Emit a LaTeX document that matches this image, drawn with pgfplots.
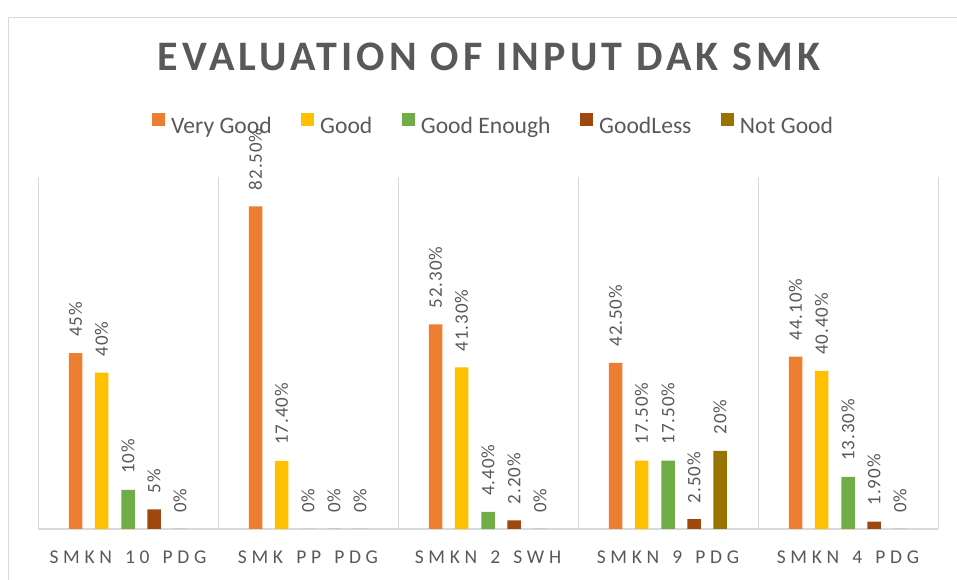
\documentclass[border=0pt]{standalone}
\usepackage{fontspec}
\setmainfont{Carlito}
\newfontfamily\titlefont[LetterSpace=10]{Carlito}
\newfontfamily\tickfont[LetterSpace=24,WordSpace=1.45]{Carlito}
\newfontfamily\labfont[LetterSpace=5]{Carlito}
\usepackage{pgfplots}
\usepackage{pgfplotstable}
\pgfplotsset{compat=1.18}
\definecolor{cVG}{HTML}{ED7D31}
\definecolor{cG}{HTML}{FFC000}
\definecolor{cGE}{HTML}{70AD47}
\definecolor{cGL}{HTML}{9E480E}
\definecolor{cNG}{HTML}{997300}
\definecolor{textgray}{HTML}{595959}
\definecolor{gridgray}{HTML}{D9D9D9}

\pgfplotstableread{
x y lab
0 45 45\%
1 82.5 82.50\%
2 52.3 52.30\%
3 42.5 42.50\%
4 44.1 44.10\%
}\tblVG
\pgfplotstableread{
x y lab
0 40 40\%
1 17.4 17.40\%
2 41.3 41.30\%
3 17.5 17.50\%
4 40.4 40.40\%
}\tblG
\pgfplotstableread{
x y lab
0 10 10\%
1 0 0\%
2 4.4 4.40\%
3 17.5 17.50\%
4 13.3 13.30\%
}\tblGE
\pgfplotstableread{
x y lab
0 5 5\%
1 0 0\%
2 2.2 2.20\%
3 2.5 2.50\%
4 1.9 1.90\%
}\tblGL
\pgfplotstableread{
x y lab
0 0 0\%
1 0 0\%
2 0 0\%
3 20 20\%
4 0 0\%
}\tblNG

\begin{document}
\begin{tikzpicture}
\useasboundingbox (0,0) rectangle (957pt,580pt);
\draw[gridgray, line width=1pt] (8pt,0pt) -- (8pt,562pt) -- (957pt,562pt);
\node[anchor=base, text=textgray, font=\titlefont\bfseries\fontsize{42}{50}\selectfont] at (489pt,509pt) {EVALUATION OF INPUT DAK SMK};
\begin{axis}[
  at={(38pt,51pt)}, anchor=south west,
  scale only axis, width=900pt, height=352pt,
  xmin=-0.5, xmax=4.5, ymin=0, ymax=90,
  ybar, bar width=13.5pt,
  xtick={0,1,2,3,4},
  xticklabels={SMKN 10 PDG, SMK PP PDG, SMKN 2 SWH, SMKN 9 PDG, SMKN 4 PDG},
  minor xtick={-0.5,0.5,1.5,2.5,3.5,4.5},
  xminorgrids=true,
  minor grid style={draw=gridgray, line width=1pt},
  major tick length=0pt, minor tick length=0pt,
  ytick=\empty,
  extra y ticks={0}, extra y tick labels={},
  extra y tick style={ymajorgrids=true, major grid style={draw=gridgray, line width=1.6pt}},
  axis line style={draw=none},
  xticklabel style={font=\tickfont\fontsize{19.5}{22}\selectfont, text=textgray, anchor=base, yshift=-34pt},
  nodes near coords, point meta=explicit symbolic,
  nodes near coords style={font=\labfont\fontsize{19}{22}\selectfont, text=textgray, rotate=90, anchor=west, inner xsep=16pt, inner ysep=0pt},
  legend columns=5,
  legend style={at={(0.1267,1.151)}, anchor=west, draw=none, fill=none,
    font=\fontsize{23.6}{28}\selectfont, text=textgray, inner sep=0pt,
    nodes={inner sep=0pt},
    /tikz/every odd column/.style={column sep=6pt},
    /tikz/every even column/.style={column sep=29.5pt}},
  legend image code/.code={\fill[#1] (0pt,0pt) rectangle (13pt,13pt);},
]
\addplot[fill=cVG, draw=none, bar shift=-52.5pt] table[x=x, y=y, meta=lab] {\tblVG};
\addplot[fill=cG, draw=none, bar shift=-26.5pt] table[x=x, y=y, meta=lab] {\tblG};
\addplot[fill=cGE, draw=none, bar shift=0pt] table[x=x, y=y, meta=lab] {\tblGE};
\addplot[fill=cGL, draw=none, bar shift=26pt] table[x=x, y=y, meta=lab] {\tblGL};
\addplot[fill=cNG, draw=none, bar shift=52pt] table[x=x, y=y, meta=lab] {\tblNG};
\legend{Very Good, Good, Good Enough, GoodLess, Not Good}
\end{axis}
\end{tikzpicture}
\end{document}
